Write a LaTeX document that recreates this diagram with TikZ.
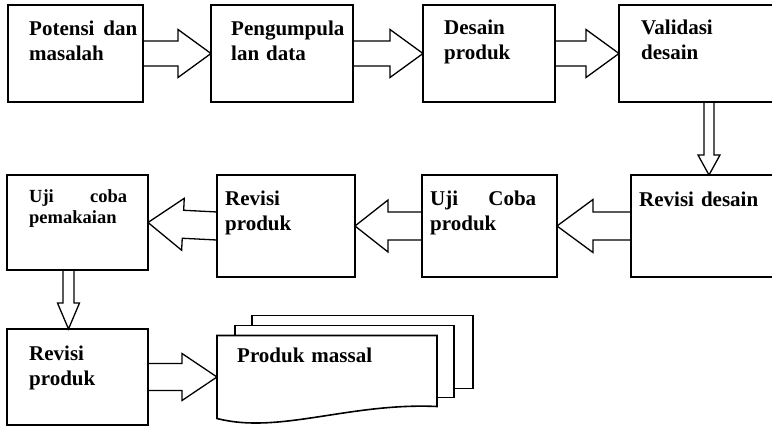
\documentclass[tikz,border=0pt]{standalone}
\usepackage{fontspec}
\setmainfont{Liberation Serif}
\usetikzlibrary{positioning, calc}

\tikzset{
  kotak/.style 2 args={draw, line width=1.6pt, inner sep=0pt, outer sep=0pt, minimum width=#1, minimum height=#2},
  teks/.style={anchor=base west, inner sep=0pt, align=left, text width=#1, font=\fontsize{21}{25}\selectfont\bfseries},
  panah/.style={draw, line width=1.3pt, line join=miter},
  lembar/.style={draw, line width=1.6pt, fill=white}
}

\newcommand{\blokpanah}[5]{%
  \coordinate (kp) at ($(#2)!#5!(#1)$);
  \draw[panah] ($(#1)!#3!90:(#2)$) -- ($(kp)!#3!90:(#2)$) -- ($(kp)!#4!90:(#2)$) -- (#2)
    -- ($(kp)!#4!-90:(#2)$) -- ($(kp)!#3!-90:(#2)$) -- ($(#1)!#3!-90:(#2)$);
}

\begin{document}
\begin{tikzpicture}[x=1pt, y=-1pt]
  \useasboundingbox (0,0) rectangle (772,427);

  \node[kotak={135pt}{97pt}, anchor=north west] (potensi) at (8,5) {};
  \node[kotak={142pt}{97pt}, right=68pt of potensi] (kumpul) {};
  \node[kotak={132pt}{97pt}, right=70pt of kumpul] (desain) {};
  \node[kotak={180pt}{97pt}, right=64pt of desain] (validasi) {};

  \node[kotak={156pt}{102pt}, below=73pt of validasi] (revdesain) {};
  \node[kotak={135pt}{102pt}, left=74pt of revdesain] (ujiproduk) {};
  \node[kotak={138pt}{102pt}, left=67pt of ujiproduk] (revproduk) {};
  \node[kotak={141pt}{95pt}, left=69pt of revproduk.north west, anchor=north east] (ujipakai) {};

  \node[kotak={141pt}{96pt}, below=59pt of ujipakai] (revproduk2) {};
  \node[minimum width=220pt, minimum height=83pt, inner sep=0pt, outer sep=0pt, right=69pt of revproduk2] (massal) {};

  \node[teks=108pt] (potensi-t) at ($(potensi.north west)+(21,31)$) {Potensi\hfill dan\\masalah};
  \node[teks=120pt] (kumpul-t) at ($(kumpul.north west)+(20,31)$) {Pengumpula\\lan data};
  \node[teks=108pt] (desain-t) at ($(desain.north west)+(21,30)$) {Desain\\produk};
  \node[teks=140pt] (validasi-t) at ($(validasi.north west)+(22,30)$) {Validasi\\desain};
  \node[teks=140pt] (revdesain-t) at ($(revdesain.north west)+(8,32)$) {Revisi desain};
  \node[teks=106pt] (ujiproduk-t) at ($(ujiproduk.north west)+(8,31)$) {Uji\hfill Coba\\produk};
  \node[teks=120pt] (revproduk-t) at ($(revproduk.north west)+(8,31)$) {Revisi\\produk};
  \node[teks=98pt, font=\fontsize{18.5}{20.5}\selectfont\bfseries] (ujipakai-t) at ($(ujipakai.north west)+(22,28)$) {Uji\hfill coba\\pemakaian};
  \node[teks=110pt] (revproduk2-t) at ($(revproduk2.north west)+(22,32)$) {Revisi\\produk};

  \blokpanah{potensi.east}{kumpul.west}{12.5pt}{24pt}{33pt}
  \blokpanah{kumpul.east}{desain.west}{12.5pt}{24pt}{33pt}
  \blokpanah{desain.east}{validasi.west}{12.5pt}{24pt}{33pt}
  \blokpanah{validasi.south}{revdesain.north}{5pt}{11pt}{20pt}
  \blokpanah{revdesain.west}{ujiproduk.east}{14pt}{26.5pt}{36pt}
  \blokpanah{ujiproduk.west}{revproduk.east}{14pt}{26pt}{33pt}
  \blokpanah{revproduk.west}{ujipakai.east}{14pt}{26pt}{35pt}
  \coordinate (turun-a) at ($(ujipakai.south)+(-9,0)$);
  \coordinate (turun-b) at ($(revproduk2.north)+(-9,0)$);
  \blokpanah{turun-a}{turun-b}{5.5pt}{11pt}{26pt}
  \blokpanah{revproduk2.east}{massal.west}{13.5pt}{23.5pt}{35pt}

  \draw[lembar] ($(massal.north west)+(35,-20)$) rectangle ($(massal.north east)+(36,53)$);
  \draw[lembar] ($(massal.north west)+(18,-10)$) rectangle ($(massal.north east)+(17,62)$);
  \draw[lembar] (massal.north west) -- (massal.north east) -- ($(massal.south east)+(0,-12)$)
    .. controls +(-88,-4) and +(62,16) .. (massal.south west) -- cycle;
  \node[teks=200pt] (massal-t) at ($(massal.north west)+(20,27)$) {Produk massal};
\end{tikzpicture}
\end{document}
